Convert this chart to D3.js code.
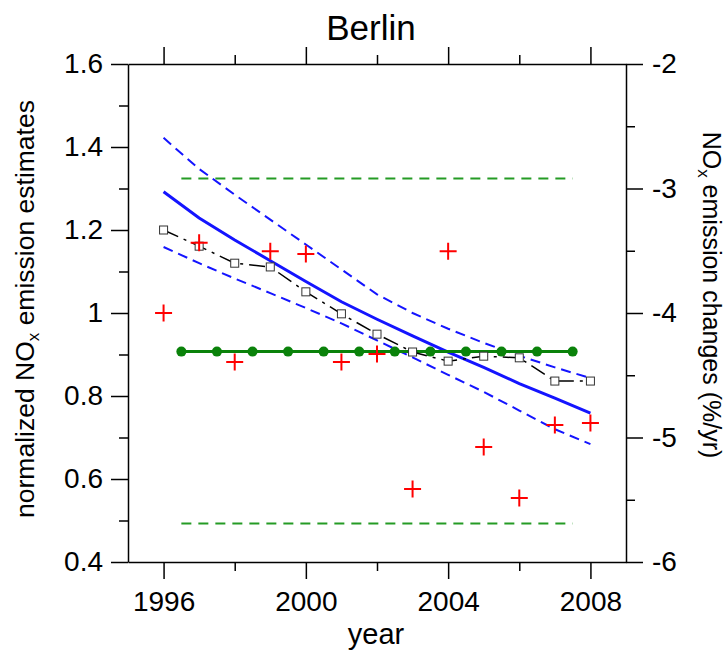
<!DOCTYPE html>
<html>
<head>
<meta charset="utf-8">
<script src="https://cdn.jsdelivr.net/npm/d3@7"></script>
<style>
  body { margin: 0; background: #fff; }
  svg { font-family: "Liberation Sans", Arial, sans-serif; }
  .axis path, .axis line { stroke: #000; stroke-width: 1.5; }
  .axis text { font-size: 28px; fill: #000; font-family: "Liberation Sans", Arial, sans-serif; }
</style>
</head>
<body>
<svg width="728" height="650"></svg>
<script>
// values
var years = [1996, 1997, 1998, 1999, 2000, 2001, 2002, 2003, 2004, 2005, 2006, 2007, 2008];
var crossVals = [1.0, 1.169, 0.882, 1.149, 1.142, 0.882, 0.901, 0.576, 1.149, 0.677, 0.554, 0.730, 0.735];
var squareVals = [1.2, 1.161, 1.12, 1.111, 1.051, 0.998, 0.949, 0.906, 0.884, 0.896, 0.892, 0.836, 0.836];
var fitVals = [1.292, 1.229, 1.176, 1.126, 1.076, 1.027, 0.985, 0.945, 0.906, 0.869, 0.83, 0.795, 0.759];
var fitUpper = [1.422, 1.347, 1.285, 1.225, 1.165, 1.105, 1.045, 1.0, 0.962, 0.928, 0.897, 0.869, 0.843];
var fitLower = [1.159, 1.12, 1.083, 1.048, 1.012, 0.975, 0.934, 0.893, 0.851, 0.81, 0.765, 0.72, 0.684];

// emission change trend (%/yr), right axis
var trendYears = [1996.5, 1997.5, 1998.5, 1999.5, 2000.5, 2001.5, 2002.5, 2003.5, 2004.5, 2005.5, 2006.5, 2007.5];
var trendVals = [-4.31, -4.31, -4.31, -4.31, -4.31, -4.31, -4.31, -4.31, -4.31, -4.31, -4.31, -4.31];
var ciYears = [1996.5, 2007.5];
var ciHigh = [-2.92, -2.92];
var ciLow = [-5.69, -5.69];

var xTicks = [1996, 2000, 2004, 2008];
var xMinor = [1998, 2002, 2006];
var leftTicks = [0.4, 0.6, 0.8, 1, 1.2, 1.4, 1.6];
var leftMinor = [0.5, 0.7, 0.9, 1.1, 1.3, 1.5];
var rightTicks = [-6, -5, -4, -3, -2];
var rightMinor = [-5.5, -4.5, -3.5, -2.5];

var svg = d3.select("svg");
var margins = {left: 128, right: 102, top: 64, bot: 88};
var width = 728, height = 650;

var xScale = d3.scaleLinear().domain([1995, 2009]).range([margins.left, width - margins.right]);
var yLeft = d3.scaleLinear().domain([0.4, 1.6]).range([height - margins.bot, margins.top]);
var yRight = d3.scaleLinear().domain([-6, -2]).range([height - margins.bot, margins.top]);

//axes
function addAxis(axis, tr, noDomain) {
  var g = svg.append("g").classed("axis", true).attr("transform", tr).call(axis);
  if (noDomain) g.select(".domain").remove();
  return g;
}
var bottomY = height - margins.bot;
var rightX = width - margins.right;

addAxis(d3.axisBottom(xScale).tickValues(xTicks).tickSize(17).tickSizeOuter(0).tickPadding(12).tickFormat(d3.format("d")), "translate(0," + bottomY + ")");
addAxis(d3.axisBottom(xScale).tickValues(xMinor).tickSize(9).tickFormat(""), "translate(0," + bottomY + ")", true);
addAxis(d3.axisTop(xScale).tickValues(xTicks).tickSize(17).tickSizeOuter(0).tickFormat(""), "translate(0," + margins.top + ")");
addAxis(d3.axisTop(xScale).tickValues(xMinor).tickSize(9).tickFormat(""), "translate(0," + margins.top + ")", true);

addAxis(d3.axisLeft(yLeft).tickValues(leftTicks).tickSize(17).tickSizeOuter(0).tickPadding(8).tickFormat(function(d){ return String(d); }), "translate(" + margins.left + ",0)");
addAxis(d3.axisLeft(yLeft).tickValues(leftMinor).tickSize(9).tickFormat(""), "translate(" + margins.left + ",0)", true);
addAxis(d3.axisRight(yRight).tickValues(rightTicks).tickSize(17).tickSizeOuter(0).tickPadding(9).tickFormat(function(d){ return String(d); }), "translate(" + rightX + ",0)");
addAxis(d3.axisRight(yRight).tickValues(rightMinor).tickSize(9).tickFormat(""), "translate(" + rightX + ",0)", true);

//lines
var fitLine = function(vals, scale) {
  return d3.line().x(function(d, i){ return xScale(d); }).y(function(d, i){ return scale(vals[i]); });
};

svg.append("path").attr("d", fitLine(ciHigh, yRight)(ciYears))
   .attr("fill", "none").attr("stroke", "#259b25").attr("stroke-width", 2).attr("stroke-dasharray", "10,7");
svg.append("path").attr("d", fitLine(ciLow, yRight)(ciYears))
   .attr("fill", "none").attr("stroke", "#259b25").attr("stroke-width", 2).attr("stroke-dasharray", "10,7");

svg.append("path").attr("d", fitLine(fitUpper, yLeft)(years))
   .attr("fill", "none").attr("stroke", "#1414ff").attr("stroke-width", 2).attr("stroke-dasharray", "10,6");
svg.append("path").attr("d", fitLine(fitLower, yLeft)(years))
   .attr("fill", "none").attr("stroke", "#1414ff").attr("stroke-width", 2).attr("stroke-dasharray", "10,6");
svg.append("path").attr("d", fitLine(fitVals, yLeft)(years))
   .attr("fill", "none").attr("stroke", "#1414ff").attr("stroke-width", 3);

svg.append("path").attr("d", fitLine(trendVals, yRight)(trendYears))
   .attr("fill", "none").attr("stroke", "#0a820a").attr("stroke-width", 3);
svg.selectAll("circle.trend").data(trendYears).enter().append("circle")
   .attr("cx", function(d){ return xScale(d); })
   .attr("cy", function(d, i){ return yRight(trendVals[i]); })
   .attr("r", 5).attr("fill", "#0a820a");

svg.append("path").attr("d", fitLine(squareVals, yLeft)(years))
   .attr("fill", "none").attr("stroke", "#000").attr("stroke-width", 1.5).attr("stroke-dasharray", "16,6,3,6");
svg.selectAll("rect.obs").data(years).enter().append("rect")
   .attr("x", function(d){ return xScale(d) - 4; })
   .attr("y", function(d, i){ return yLeft(squareVals[i]) - 4; })
   .attr("width", 8).attr("height", 8)
   .attr("fill", "#fff").attr("stroke", "#333").attr("stroke-width", 1);

svg.selectAll("path.cross").data(years).enter().append("path")
   .attr("transform", function(d, i){ return "translate(" + xScale(d) + "," + yLeft(crossVals[i]) + ")"; })
   .attr("d", "M-8.5,0H8.5M0,-8.5V8.5")
   .attr("stroke", "#ff0000").attr("stroke-width", 2).attr("fill", "none");

//texts
svg.append("text").attr("x", 371).attr("y", 40).attr("text-anchor", "middle")
   .style("font-size", "35px").text("Berlin");

svg.append("text").attr("x", 376).attr("y", 644).attr("text-anchor", "middle")
   .style("font-size", "29px").text("year");

var yl = svg.append("text").attr("transform", "translate(34,309) rotate(-90)")
   .attr("text-anchor", "middle").style("font-size", "26.5px");
yl.append("tspan").text("normalized NO");
yl.append("tspan").attr("dy", "0.3em").style("font-size", "17px").text("x");
yl.append("tspan").attr("dy", "-0.2em").text(" emission estimates");

var yr = svg.append("text").attr("transform", "translate(703,295) rotate(90)")
   .attr("text-anchor", "middle").style("font-size", "25px");
yr.append("tspan").text("NO");
yr.append("tspan").attr("dy", "0.3em").style("font-size", "17px").text("x");
yr.append("tspan").attr("dy", "-0.2em").text(" emission changes (%/yr)");
</script>
</body>
</html>
